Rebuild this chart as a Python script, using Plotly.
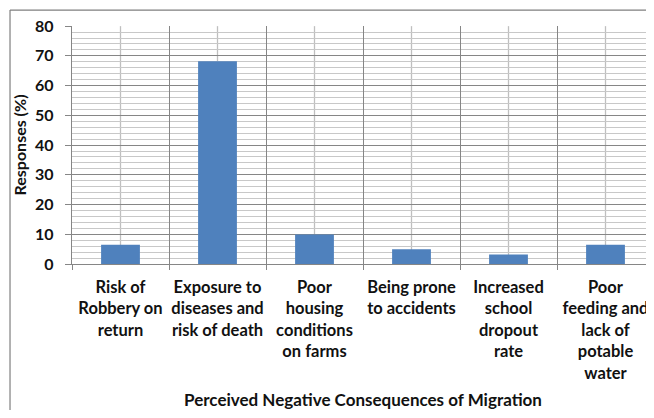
import plotly.graph_objects as go

categories = [
    "Risk of<br>Robbery on<br>return",
    "Exposure to<br>diseases and<br>risk of death",
    "Poor<br>housing<br>conditions<br>on farms",
    "Being prone<br>to accidents",
    "Increased<br>school<br>dropout<br>rate",
    "Poor<br>feeding and<br>lack of<br>potable<br>water",
]
responses = [6.5, 68.2, 9.9, 5.0, 3.2, 6.5]
y_ticks = [0, 10, 20, 30, 40, 50, 60, 70, 80]

FONT = "Lato"
TXT = "#111111"
fig = go.Figure()
fig.add_trace(go.Bar(
    x=categories, y=responses, width=0.4,
    marker=dict(color="#4F81BD", line=dict(width=0)),
))

# light centre lines per category (Excel minor vertical grid)
for c in categories:
    fig.add_shape(type="line", xref="x", yref="y", x0=c, x1=c, y0=0, y1=80,
                  line=dict(color="#BFBFBF", width=1.3), layer="below")

# outer chart border (top and left edges are visible in the frame)
fig.add_shape(type="line", xref="paper", yref="paper",
              x0=-0.1065, x1=1.2, y0=1.067, y1=1.067,
              line=dict(color="#7F7F7F", width=1.2))
fig.add_shape(type="line", xref="paper", yref="paper",
              x0=-0.1065, x1=-0.1065, y0=-0.8, y1=1.067,
              line=dict(color="#7F7F7F", width=1.2))

fig.update_layout(
    width=646, height=402,
    margin=dict(l=64, r=0, t=18, b=146),
    paper_bgcolor="white", plot_bgcolor="white",
    showlegend=False,
    font=dict(family=FONT, size=16, color=TXT),
    xaxis=dict(
        type="category", tickson="boundaries", showgrid=True,
        gridcolor="#868686", gridwidth=1.3,
        ticks="outside", ticklen=5, tickcolor="#868686",
        showline=True, linecolor="#868686", linewidth=1.3,
        tickangle=0, ticklabelstandoff=8,
        tickfont=dict(family=FONT, size=16.5, color=TXT, weight="bold"),
        title=dict(text="<b>Perceived Negative Consequences of Migration</b>",
                   font=dict(family=FONT, size=17, color=TXT), standoff=13),
        range=[-0.5, 5.5], automargin=False,
    ),
    yaxis=dict(
        range=[0, 80.05], tickvals=y_ticks, showgrid=True,
        gridcolor="#868686", gridwidth=1.3,
        minor=dict(dtick=2, showgrid=True, gridcolor="#C8C8C8", gridwidth=1.3),
        ticks="outside", ticklen=6, tickcolor="#868686",
        showline=True, linecolor="#868686", linewidth=1.3,
        zeroline=False, ticklabelstandoff=8, automargin=False,
        tickfont=dict(family=FONT, size=16, color=TXT, weight="bold"),
        title=dict(text="<b>Responses (%)</b>",
                   font=dict(family=FONT, size=16, color=TXT), standoff=4),
    ),
)

fig.write_html("out.html")
